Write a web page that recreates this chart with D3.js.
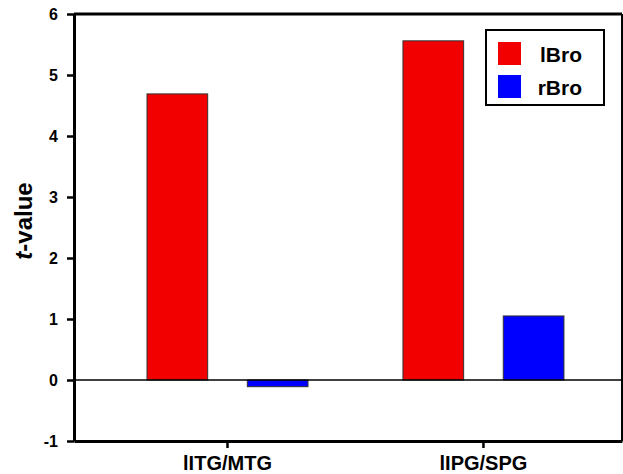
<!DOCTYPE html>
<html>
<head>
<meta charset="utf-8">
<script src="https://cdn.jsdelivr.net/npm/d3@7/dist/d3.min.js"></script>
<style>
  html, body { margin: 0; padding: 0; background: #fff; }
  svg { display: block; font-family: "Liberation Sans", Arial, sans-serif; }
</style>
</head>
<body>
<svg id="chart" width="623" height="474"></svg>
<script>
// Regions and hemispheres compared
const categories = ["lITG/MTG", "lIPG/SPG"];
const seriesNames = ["lBro", "rBro"];
const lBroValues = [4.69, 5.56];
const rBroValues = [-0.11, 1.05];
const yTicks = [-1, 0, 1, 2, 3, 4, 5, 6];
const seriesColors = ["#f20000", "#0000ff"];

(function draw() {
  const rows = categories.map((c, i) => ({
    category: c,
    values: [
      { series: seriesNames[0], value: lBroValues[i] },
      { series: seriesNames[1], value: rBroValues[i] }
    ]
  }));

  const svg = d3.select("#chart");
  const plotLeft = 74, plotRight = 622, plotTop = 14, plotBottom = 441;

  const y = d3.scaleLinear().domain([-1, 6]).range([plotBottom, plotTop]);

  const x = d3.scaleBand()
    .domain(categories)
    .range([plotLeft, plotRight])
    .paddingInner(0.371)
    .paddingOuter(0.256)
    .align(0.557);

  const xSub = d3.scaleBand()
    .domain(seriesNames)
    .range([0, x.bandwidth()])
    .paddingInner(0.395);

  const color = d3.scaleOrdinal().domain(seriesNames).range(seriesColors);

  // Bars
  const groups = svg.append("g")
    .selectAll("g")
    .data(rows)
    .join("g")
    .attr("transform", d => `translate(${x(d.category)},0)`);

  groups.selectAll("rect")
    .data(d => d.values)
    .join("rect")
    .attr("x", d => xSub(d.series))
    .attr("width", xSub.bandwidth())
    .attr("y", d => y(Math.max(0, d.value)))
    .attr("height", d => Math.abs(y(d.value) - y(0)))
    .attr("fill", d => color(d.series))
    .attr("stroke", "#333")
    .attr("stroke-width", 1);

  // Zero reference line
  svg.append("line")
    .attr("x1", plotLeft).attr("x2", plotRight)
    .attr("y1", y(0)).attr("y2", y(0))
    .attr("stroke", "#000")
    .attr("stroke-width", 1.6);

  // Frame: top and right edges
  svg.append("line")
    .attr("x1", plotLeft).attr("x2", plotRight)
    .attr("y1", plotTop).attr("y2", plotTop)
    .attr("stroke", "#000").attr("stroke-width", 3);
  svg.append("line")
    .attr("x1", plotRight).attr("x2", plotRight)
    .attr("y1", plotTop).attr("y2", plotBottom)
    .attr("stroke", "#000").attr("stroke-width", 2);

  // Y axis (plain hyphen for negative numbers)
  const yAxis = svg.append("g")
    .attr("transform", `translate(${plotLeft},0)`)
    .call(d3.axisLeft(y).tickValues(yTicks).tickFormat(d => String(d)).tickSize(7).tickPadding(9).tickSizeOuter(0));
  yAxis.select(".domain").attr("stroke-width", 3);
  yAxis.selectAll(".tick line").attr("stroke-width", 2.5);
  yAxis.selectAll(".tick text")
    .attr("font-size", 16).attr("font-weight", "bold").attr("fill", "#000")
    .attr("font-family", "Liberation Sans, Arial, sans-serif");

  // X axis
  const xAxis = svg.append("g")
    .attr("transform", `translate(0,${plotBottom})`)
    .call(d3.axisBottom(x).tickSize(7).tickPadding(8).tickSizeOuter(0));
  xAxis.select(".domain").attr("stroke-width", 3);
  xAxis.selectAll(".tick line").attr("stroke-width", 2.5);
  xAxis.selectAll(".tick text")
    .attr("font-size", 20).attr("font-weight", "bold").attr("fill", "#000")
    .attr("font-family", "Liberation Sans, Arial, sans-serif");

  // Y axis title
  const yTitle = svg.append("text")
    .attr("transform", "translate(32,221) rotate(-90)")
    .attr("text-anchor", "middle")
    .attr("font-size", 24)
    .attr("font-weight", "bold")
    .attr("fill", "#000");
  yTitle.append("tspan").attr("font-style", "italic").text("t");
  yTitle.append("tspan").text("-value");

  // Legend
  const legend = svg.append("g");
  legend.append("rect")
    .attr("x", 486).attr("y", 30)
    .attr("width", 118).attr("height", 75)
    .attr("fill", "#fff")
    .attr("stroke", "#000").attr("stroke-width", 2);

  const items = legend.selectAll("g.item")
    .data(seriesNames)
    .join("g")
    .attr("class", "item")
    .attr("transform", (d, i) => `translate(498,${42 + i * 33})`);
  items.append("rect")
    .attr("width", 23).attr("height", 23)
    .attr("fill", d => color(d));
  items.append("text")
    .attr("x", 84).attr("y", 20)
    .attr("text-anchor", "end")
    .attr("font-size", 21)
    .attr("font-weight", "bold")
    .attr("fill", "#000")
    .text(d => d);
})();
</script>
</body>
</html>
